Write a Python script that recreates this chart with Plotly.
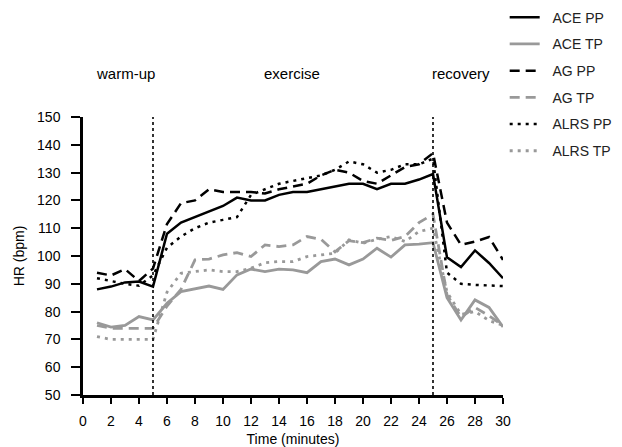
import plotly.graph_objects as go

minutes = list(range(1, 31))

ace_pp = [88, 89, 90.5, 90.8, 89, 108, 112, 114, 116, 118, 121, 120, 120, 122, 123,
          123, 124, 125, 126, 126, 124, 126, 126, 127.5, 129.5, 99.5, 96, 102, 97.5, 92]
ace_tp = [76, 74.4, 75, 78.2, 77, 83, 87.2, 88.2, 89.2, 88, 93.2, 95.3, 94.4, 95.3, 95,
          94, 98, 98.9, 96.8, 98.9, 102.8, 99.6, 104, 104.3, 104.8, 85, 77, 84.2, 81.5, 74.5]
ag_pp = [94, 93, 95.3, 91, 95.5, 111.5, 119, 120, 124, 123, 123, 123, 122.5, 124, 125,
         126, 129, 131, 130, 127, 126, 129, 132, 133, 137, 112, 104, 105.2, 106.8, 98.6]
ag_tp = [75, 74, 74, 74, 74, 82, 88, 98.6, 98.9, 100.4, 101.2, 99.8, 104, 103.4, 104,
         107, 106, 101.5, 105.5, 104.8, 106.4, 105.6, 107, 112, 115, 86, 78, 81.5, 78.5, 75]
alrs_pp = [92, 91, 90, 89.3, 93, 103, 107, 110, 112, 113, 114, 122, 124, 126, 127,
           128, 129, 131, 134, 133, 130, 131, 133, 133, 135, 94, 90, 89.6, 89.3, 89.2]
alrs_tp = [71, 70, 70, 70, 70, 87, 93.8, 94.4, 95, 94.4, 94.4, 95.6, 97.6, 98, 98,
           99.8, 100.4, 101, 105.8, 104.6, 106, 107, 105.2, 108.8, 110, 87, 79, 80, 76.8, 75]

series = [
    ("ACE PP", ace_pp, "black", "solid"),
    ("ACE TP", ace_tp, "#999999", "solid"),
    ("AG PP", ag_pp, "black", "10px,6px"),
    ("AG TP", ag_tp, "#999999", "10px,6px"),
    ("ALRS PP", alrs_pp, "black", "3px,5px"),
    ("ALRS TP", alrs_tp, "#999999", "3px,5px"),
]

phase_labels = ["warm-up", "exercise", "recovery"]
phase_x = [3.05, 14.9, 27.0]
phase_bounds = [5, 25]

x_ticks = list(range(0, 31, 2))
y_ticks = list(range(50, 151, 10))

fig = go.Figure()
for i, (name, vals, color, dash) in enumerate(series):
    fig.add_trace(go.Scatter(
        x=minutes, y=vals, mode="lines", name="\u00a0\u00a0" + name,
        legendgroup=name,
        line=dict(color=color, width=2.8 if "TP" in name else 2.5, dash=dash),
    ))

for b in phase_bounds:
    fig.add_shape(type="line", x0=b, x1=b, y0=50, y1=150, xref="x", yref="y",
                  line=dict(color="black", width=1.6, dash="dot"))

for lab, xx in zip(phase_labels, phase_x):
    fig.add_annotation(x=xx, y=1.156, xref="x", yref="paper", text=lab,
                       yanchor="middle", showarrow=False,
                       font=dict(size=15, color="black"))

# The page body adds an 8px offset, so the figure is 8px smaller and margins compensate.
fig.update_layout(
    width=614, height=439,
    margin=dict(l=75, r=119, t=109, b=52, autoexpand=False),
    paper_bgcolor="white", plot_bgcolor="white",
    font=dict(family="Liberation Sans, Arial, sans-serif", size=13, color="black"),
    showlegend=True,
    legend=dict(x=1.004, y=1.415, xanchor="left", yanchor="top",
                font=dict(size=14, color="#222222"),
                tracegroupgap=5.5, itemwidth=30, bgcolor="rgba(0,0,0,0)"),
)
fig.update_xaxes(range=[0, 30], tickvals=x_ticks, showgrid=False, zeroline=False,
                 showline=True, linecolor="black", linewidth=2.5, automargin=False,
                 ticks="outside", ticklen=6, tickwidth=2, tickcolor="black",
                 ticklabelstandoff=5, tickfont=dict(size=14),
                 title=dict(text="Time (minutes)", standoff=10, font=dict(size=14)))
fig.update_yaxes(range=[50, 150], tickvals=y_ticks, showgrid=False, zeroline=False,
                 showline=True, linecolor="black", linewidth=2.5, automargin=False,
                 ticks="outside", ticklen=9, tickwidth=2, tickcolor="black",
                 ticklabelstandoff=8, tickfont=dict(size=14),
                 title=dict(text="HR (bpm)", standoff=10, font=dict(size=14)))

fig.write_html("out.html")
